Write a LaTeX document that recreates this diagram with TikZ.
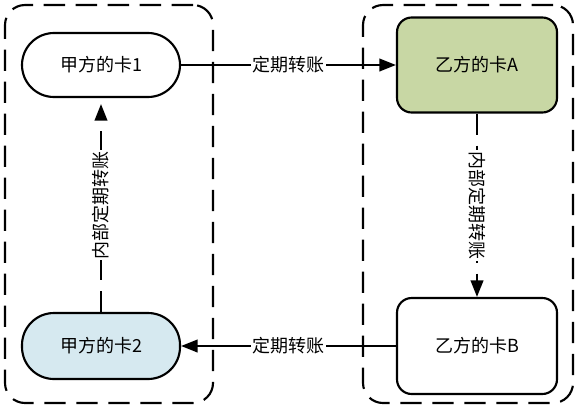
\documentclass[tikz,border=0pt]{standalone}
\usepackage{fontspec}
\setmainfont{Noto Sans CJK SC}
\usetikzlibrary{arrows.meta}
\definecolor{cardgreen}{RGB}{200,215,164}
\definecolor{cardblue}{RGB}{214,233,240}
\begin{document}
\begin{tikzpicture}[x=0.75pt,y=0.75pt,yscale=-1,xscale=1,
  every node/.style={font=\fontsize{13.5}{16}\selectfont},
  pill/.style={draw,line width=1.6pt,rounded corners=24pt,minimum width=118.5pt,minimum height=48pt},
  card/.style={draw,line width=1.6pt,rounded corners=11pt,minimum width=120pt,minimum height=72pt},
  groupbox/.style={draw,line width=1.6pt,dash pattern=on 16pt off 8pt,rounded corners=15pt},
  flow/.style={line width=1.6pt,-{Triangle[length=12.5pt,width=9.5pt]}},
  innerflow/.style={flow,dash pattern=on 16pt off 8pt},
  tag/.style={fill=white,inner sep=1pt}]
\useasboundingbox (0,0) rectangle (580,411);

% Group boxes
\node[groupbox,minimum width=156pt,minimum height=298.5pt] (partyA) at (109,204) {};
\node[groupbox,minimum width=157.5pt,minimum height=298.5pt] (partyB) at (468,204) {};

% Cards
\node[pill] (card1) at (101,65) {甲方的卡1};
\node[pill,fill=cardblue,minimum height=49.5pt] (card2) at (101,346) {甲方的卡2};
\node[card,fill=cardgreen,minimum height=71.25pt] (cardA) at (477,65) {乙方的卡A};
\node[card] (cardB) at (477,346) {乙方的卡B};

% Transfers
\draw[flow] (card1) -- node[tag] {定期转账} (cardA);
\draw[flow] (cardB) -- node[tag] {定期转账} (card2);
\draw[innerflow] (cardA) -- node[tag,rotate=-90] {内部定期转账} (cardB);
\draw[innerflow,shorten >=4.5pt] (card2) -- node[tag,rotate=90] {内部定期转账} (card1);

\end{tikzpicture}
\end{document}
